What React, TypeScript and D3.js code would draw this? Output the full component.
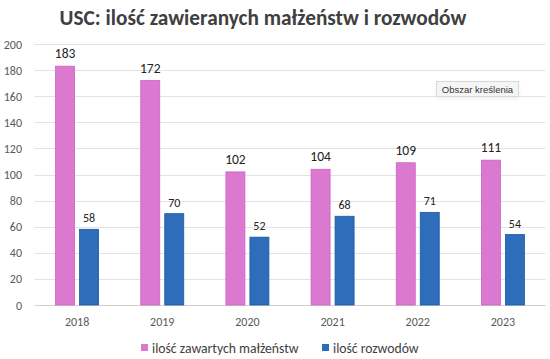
import { useEffect, useRef } from 'react';
import * as d3 from 'd3';

const years = ['2018', '2019', '2020', '2021', '2022', '2023'];
const marriages = [183, 172, 102, 104, 109, 111];
const divorces = [58, 70, 52, 68, 71, 54];
const yTicks = [0, 20, 40, 60, 80, 100, 120, 140, 160, 180, 200];
const seriesNames = ['ilość zawartych małżeństw', 'ilość rozwodów'];

const W = 550;
const H = 359;
const FONT = 'Carlito, Calibri, "Open Sans", sans-serif';

export default function App() {
  const ref = useRef<SVGSVGElement>(null);

  useEffect(() => {
    if (!ref.current) return;
    const svg = d3.select(ref.current);
    svg.selectAll('*').remove();

    const plot = { left: 34.5, right: 545.5, top: 44, bottom: 305 };

    const x = d3.scaleBand().domain(years).range([plot.left, plot.right]);
    const y = d3.scaleLinear().domain([0, 200]).range([plot.bottom, plot.top]);
    const barW = 19;
    const gap = 5;

    svg.append('rect').attr('width', W).attr('height', H).attr('fill', '#fff');

    svg
      .append('text')
      .attr('x', 263)
      .attr('y', 25)
      .attr('text-anchor', 'middle')
      .attr('font-family', FONT)
      .attr('font-weight', 700)
      .attr('font-size', 21.3)
      .attr('fill', '#404040')
      .text('USC: ilość zawieranych małżeństw i rozwodów');

    // grid
    svg
      .append('g')
      .selectAll('line')
      .data(yTicks)
      .join('line')
      .attr('x1', plot.left)
      .attr('x2', plot.right)
      .attr('y1', (d) => Math.round(y(d)) + 0.5)
      .attr('y2', (d) => Math.round(y(d)) + 0.5)
      .attr('stroke', (d) => (d === 0 ? '#d0d0d0' : '#e3e3e3'))
      .attr('stroke-width', 1);

    svg
      .append('g')
      .selectAll('text')
      .data(yTicks)
      .join('text')
      .attr('x', 22)
      .attr('y', (d) => y(d) + 4.5)
      .attr('text-anchor', 'end')
      .attr('font-family', FONT)
      .attr('font-size', 12)
      .attr('fill', '#595959')
      .text((d) => d);

    svg
      .append('g')
      .selectAll('text')
      .data(years)
      .join('text')
      .attr('x', (d) => x(d)! + x.bandwidth() / 2)
      .attr('y', 326)
      .attr('text-anchor', 'middle')
      .attr('font-family', FONT)
      .attr('font-size', 12)
      .attr('fill', '#595959')
      .text((d) => d);

    const cx = (d: string) => x(d)! + x.bandwidth() / 2;

    // marriages
    const g1 = svg.append('g');
    g1.selectAll('rect')
      .data(years)
      .join('rect')
      .attr('x', (d) => cx(d) - gap / 2 - barW)
      .attr('y', (d, i) => y(marriages[i]))
      .attr('width', barW)
      .attr('height', (d, i) => plot.bottom - y(marriages[i]))
      .attr('fill', '#da79cf')
      .attr('stroke', '#cf62c3')
      .attr('stroke-width', 0.8);
    g1.selectAll('text')
      .data(years)
      .join('text')
      .attr('x', (d) => cx(d) - gap / 2 - barW / 2)
      .attr('y', (d, i) => y(marriages[i]) - 8)
      .attr('text-anchor', 'middle')
      .attr('font-family', FONT)
      .attr('font-size', 13.5)
      .attr('fill', '#222')
      .text((d, i) => marriages[i]);

    // divorces
    const g2 = svg.append('g');
    g2.selectAll('rect')
      .data(years)
      .join('rect')
      .attr('x', (d) => cx(d) + gap / 2)
      .attr('y', (d, i) => y(divorces[i]))
      .attr('width', barW)
      .attr('height', (d, i) => plot.bottom - y(divorces[i]))
      .attr('fill', '#2e6db9')
      .attr('stroke', '#1c58a8')
      .attr('stroke-width', 0.8);
    g2.selectAll('text')
      .data(years)
      .join('text')
      .attr('x', (d) => cx(d) + gap / 2 + barW / 2)
      .attr('y', (d, i) => y(divorces[i]) - 7)
      .attr('text-anchor', 'middle')
      .attr('font-family', FONT)
      .attr('font-size', 12)
      .attr('fill', '#222')
      .text((d, i) => divorces[i]);

    // legend
    const legend = [
      { name: seriesNames[0], color: '#da79cf', x: 141 },
      { name: seriesNames[1], color: '#2e6db9', x: 322 },
    ];
    const lg = svg.append('g');
    legend.forEach((l) => {
      lg.append('rect').attr('x', l.x).attr('y', 344).attr('width', 7).attr('height', 7).attr('fill', l.color);
      lg.append('text')
        .attr('x', l.x + 11)
        .attr('y', 352.5)
        .attr('font-family', FONT)
        .attr('font-size', 13.7)
        .attr('fill', '#404040')
        .text(l.name);
    });

    // tooltip "Obszar kreślenia"
    const tip = svg.append('g').attr('transform', 'translate(436,81)');
    tip
      .append('rect')
      .attr('x', 1)
      .attr('y', 2)
      .attr('width', 82)
      .attr('height', 16)
      .attr('fill', '#000')
      .attr('opacity', 0.06)
      .attr('filter', 'blur(2px)');
    tip
      .append('rect')
      .attr('x', 0.5)
      .attr('y', 0.5)
      .attr('width', 82)
      .attr('height', 15)
      .attr('fill', '#f5f5f5')
      .attr('stroke', '#d8d8d8');
    tip
      .append('text')
      .attr('x', 41.5)
      .attr('y', 11.5)
      .attr('text-anchor', 'middle')
      .attr('font-family', '"Liberation Sans", Arial, sans-serif')
      .attr('font-size', 9.5)
      .attr('fill', '#333')
      .text('Obszar kreślenia');
  }, []);

  return <svg ref={ref} width={W} height={H} style={{ display: 'block', position: 'absolute', left: 0, top: 0 }} />;
}
